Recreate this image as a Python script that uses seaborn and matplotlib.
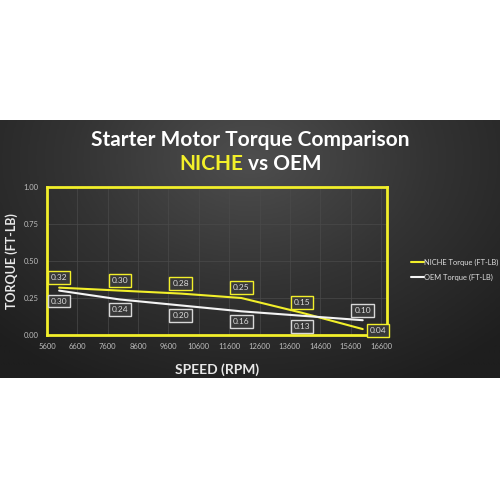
import numpy as np
import pandas as pd
import matplotlib
matplotlib.use("Agg")
import matplotlib.pyplot as plt
from matplotlib.colors import LinearSegmentedColormap
import seaborn as sns

# data
speed = [6000, 8000, 10000, 12000, 14000, 16000]
niche = [0.32, 0.30, 0.28, 0.25, 0.15, 0.04]
oem = [0.30, 0.24, 0.20, 0.16, 0.13, 0.10]
xticks = [5600, 6600, 7600, 8600, 9600, 10600, 11600, 12600, 13600, 14600, 15600, 16600]
yticks = [0.00, 0.25, 0.50, 0.75, 1.00]

YEL = "#f2ef2a"
WHT = "#f4f4f4"

sns.set_theme(style="dark")
plt.rcParams["font.family"] = ["Lato", "DejaVu Sans"]

veri = pd.DataFrame({
    "speed": speed * 2,
    "torque": niche + oem,
    "seri": ["NICHE Torque (FT-LB)"] * len(speed) + ["OEM Torque (FT-LB)"] * len(speed),
})

fig = plt.figure(figsize=(5, 5), dpi=100, facecolor="white")

# dark gradient panel
bg = fig.add_axes([0, 0.244, 1, 0.516])
yy, xx = np.mgrid[1:0:200j, 0:1:400j]
r = np.sqrt(((xx - 0.5) / 0.8) ** 2 + ((yy - 0.85) / 1.1) ** 2)
cm = LinearSegmentedColormap.from_list("g", ["#4e4e4e", "#333333", "#1e1e1e"])
bg.imshow(r, cmap=cm, vmin=0, vmax=0.9, aspect="auto", extent=[0, 1, 0, 1])
bg.set_axis_off()

ax = fig.add_axes([0.094, 0.33, 0.68, 0.296])
ax.set_facecolor("none")
sns.lineplot(data=veri, x="speed", y="torque", hue="seri",
             palette=[YEL, WHT], linewidth=1.5, ax=ax)

ax.set_xlim(5600, 16800)
ax.set_ylim(0, 1)
ax.set_xticks(xticks)
ax.set_yticks(yticks)
ax.set_xticklabels([str(t) for t in xticks])
ax.set_yticklabels(["%.2f" % t for t in yticks])
ax.tick_params(colors="#bdbdbd", labelsize=5.5, length=0, pad=6)
ax.grid(True, color="#4a4a4a", linewidth=0.5)
for s in ax.spines.values():
    s.set_color(YEL)
    s.set_linewidth(2)

ax.set_xlabel("SPEED (RPM)", color="#e8e8e8", fontsize=10, fontweight="bold")
ax.set_ylabel("TORQUE (FT-LB)", color="#e8e8e8", fontsize=9, fontweight="bold")
ax.xaxis.set_label_coords(0.5, -0.19)
ax.yaxis.set_label_coords(-0.085, 0.5)

box_n = dict(boxstyle="square,pad=0.35", fc="#383838", ec=YEL, lw=1)
box_o = dict(boxstyle="square,pad=0.35", fc="#383838", ec="#d8d8d8", lw=1)
for i, (x, y) in enumerate(zip(speed, niche)):
    off = (11, -1) if i == len(speed) - 1 else (0, 7.5)
    ax.annotate("%.2f" % y, (x, y), xytext=off, textcoords="offset points",
                ha="center", va="center", color="#dddddd", fontsize=6, bbox=box_n)
for i, (x, y) in enumerate(zip(speed, oem)):
    off = (0, 7) if i == len(speed) - 1 else (0, -7.5)
    ax.annotate("%.2f" % y, (x, y), xytext=off, textcoords="offset points",
                ha="center", va="center", color="#dddddd", fontsize=6, bbox=box_o)

leg = ax.legend(loc="center left", bbox_to_anchor=(1.05, 0.44), frameon=False,
                fontsize=5.4, handlelength=1.7, handletextpad=0.05, labelspacing=1.1)
for t in leg.get_texts():
    t.set_color("#dddddd")

fig.text(0.5, 0.72, "Starter Motor Torque Comparison", ha="center", va="center",
         color="white", fontsize=15, fontweight="bold")
fig.text(0.487, 0.671, "NICHE", ha="right", va="center", color=YEL, fontsize=15, fontweight="bold")
fig.text(0.497, 0.671, "vs OEM", ha="left", va="center", color="white", fontsize=15, fontweight="bold")

fig.savefig("out.png", dpi=100, facecolor="white")
